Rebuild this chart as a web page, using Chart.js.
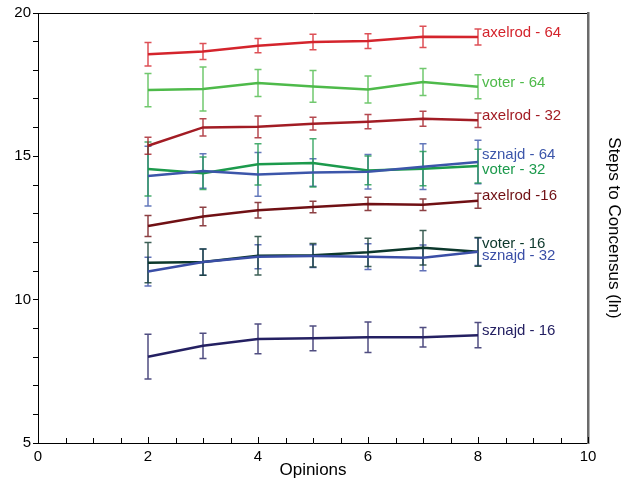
<!DOCTYPE html>
<html>
<head>
<meta charset="utf-8">
<script src="https://cdn.jsdelivr.net/npm/chart.js@4.4.1/dist/chart.umd.min.js"></script>
<style>
  html, body { margin: 0; padding: 0; background: #fff; }
  #wrap { width: 632px; height: 483px; }
</style>
</head>
<body>
<div id="wrap"><canvas id="grafico"></canvas></div>
<script>
// opiniones (eje x)
var opiniones = [2, 3, 4, 5, 6, 7, 8];

// series: media y error
var axelrod64 = [18.56, 18.66, 18.86, 18.99, 19.02, 19.17, 19.16];
var axelrod64Err = [0.41, 0.28, 0.25, 0.27, 0.26, 0.37, 0.28];

var voter64 = [17.31, 17.35, 17.56, 17.44, 17.33, 17.59, 17.43];
var voter64Err = [0.58, 0.77, 0.47, 0.55, 0.47, 0.47, 0.42];

var axelrod32 = [15.37, 16.01, 16.03, 16.14, 16.21, 16.31, 16.26];
var axelrod32Err = [0.30, 0.30, 0.38, 0.22, 0.25, 0.26, 0.25];

var sznajd64 = [14.31, 14.49, 14.37, 14.44, 14.46, 14.64, 14.80];
var sznajd64Err = [1.04, 0.60, 0.76, 0.48, 0.60, 0.80, 0.76];

var voter32 = [14.56, 14.41, 14.72, 14.77, 14.51, 14.57, 14.66];
var voter32Err = [0.94, 0.57, 0.72, 0.84, 0.50, 0.60, 0.59];

var axelrod16 = [12.57, 12.90, 13.12, 13.23, 13.34, 13.31, 13.45];
var axelrod16Err = [0.37, 0.32, 0.27, 0.20, 0.23, 0.20, 0.26];

var voter16 = [11.29, 11.31, 11.53, 11.55, 11.65, 11.81, 11.67];
var voter16Err = [0.70, 0.46, 0.67, 0.41, 0.49, 0.60, 0.50];

var sznajd32 = [10.98, 11.31, 11.50, 11.52, 11.50, 11.46, 11.67];
var sznajd32Err = [0.50, 0.46, 0.42, 0.40, 0.45, 0.45, 0.48];

var sznajd16 = [8.01, 8.39, 8.63, 8.65, 8.69, 8.69, 8.76];
var sznajd16Err = [0.78, 0.44, 0.52, 0.43, 0.53, 0.34, 0.44];

var fuente = "'Liberation Sans', Arial, Helvetica, sans-serif";

function serie(nombre, valores, errores, color, dy) {
  return {
    label: nombre,
    data: opiniones.map(function (x, i) { return { x: x, y: valores[i] }; }),
    errores: errores,
    borderColor: color,
    backgroundColor: color,
    borderWidth: 2.5,
    pointRadius: 0,
    tension: 0,
    etiquetaDy: dy
  };
}

var datasets = [
  serie('sznajd - 16', sznajd16, sznajd16Err, 'rgb(36, 32, 98)', -4),
  serie('sznajd - 32', sznajd32, sznajd32Err, 'rgb(58, 78, 166)', 4),
  serie('voter - 16', voter16, voter16Err, 'rgb(12, 56, 44)', -8),
  serie('axelrod -16', axelrod16, axelrod16Err, 'rgb(112, 16, 20)', -5),
  serie('sznajd - 64', sznajd64, sznajd64Err, 'rgb(60, 86, 170)', -7),
  serie('voter - 32', voter32, voter32Err, 'rgb(28, 154, 76)', 4),
  serie('axelrod - 32', axelrod32, axelrod32Err, 'rgb(162, 28, 36)', -4),
  serie('voter - 64', voter64, voter64Err, 'rgb(78, 186, 74)', -4),
  serie('axelrod - 64', axelrod64, axelrod64Err, 'rgb(212, 36, 44)', -4)
];

// barras de error + etiquetas al final de cada linea
var pluginErrores = {
  id: 'errores',
  beforeDatasetsDraw: function (chart) {
    var ctx = chart.ctx;
    var sx = chart.scales.x, sy = chart.scales.y;
    ctx.save();
    chart.data.datasets.forEach(function (ds) {
      ctx.strokeStyle = ds.borderColor;
      ctx.globalAlpha = 0.8;
      ctx.lineWidth = 1.5;
      ds.data.forEach(function (p, i) {
        var px = sx.getPixelForValue(p.x);
        var top = sy.getPixelForValue(p.y + ds.errores[i]);
        var bot = sy.getPixelForValue(p.y - ds.errores[i]);
        ctx.beginPath();
        ctx.moveTo(px, top); ctx.lineTo(px, bot);
        ctx.moveTo(px - 3.5, top); ctx.lineTo(px + 3.5, top);
        ctx.moveTo(px - 3.5, bot); ctx.lineTo(px + 3.5, bot);
        ctx.stroke();
      });
    });
    ctx.restore();
  },
  afterDraw: function (chart) {
    var ctx = chart.ctx;
    var sx = chart.scales.x, sy = chart.scales.y;
    ctx.save();
    // etiquetas
    ctx.font = '15px ' + fuente;
    ctx.textBaseline = 'middle';
    ctx.textAlign = 'left';
    chart.data.datasets.forEach(function (ds) {
      var ult = ds.data[ds.data.length - 1];
      ctx.fillStyle = ds.borderColor;
      ctx.fillText(ds.label, sx.getPixelForValue(ult.x) + 4, sy.getPixelForValue(ult.y) + ds.etiquetaDy);
    });
    // marcas del eje x hacia dentro
    ctx.strokeStyle = '#000';
    ctx.lineWidth = 1;
    var base = chart.chartArea.bottom;
    for (var v = 0; v <= 10; v += 0.5) {
      var px = Math.round(sx.getPixelForValue(v)) + 0.5;
      var largo = (v % 2 === 0) ? 6 : 5;
      ctx.beginPath();
      ctx.moveTo(px, base);
      ctx.lineTo(px, base - largo);
      ctx.stroke();
    }
    ctx.restore();
  }
};

var ctx = document.getElementById('grafico');

var grafico = new Chart(ctx, {
  type: 'line',
  data: { datasets: datasets },
  plugins: [pluginErrores],
  options: {
    responsive: true,
    maintainAspectRatio: false,
    animation: false,
    layout: { padding: { top: 13, left: 0, right: 0, bottom: 0 } },
    plugins: {
      legend: { display: false },
      tooltip: { enabled: false }
    },
    scales: {
      x: {
        type: 'linear',
        position: 'bottom',
        min: 0,
        max: 10,
        ticks: {
          stepSize: 2,
          color: '#000',
          padding: 5,
          maxRotation: 0,
          font: { family: fuente, size: 15 }
        },
        grid: { drawOnChartArea: false, drawTicks: false, color: '#000' },
        border: { color: '#000', width: 1 },
        title: {
          display: true,
          text: 'Opinions',
          color: '#000',
          padding: { top: 0, bottom: 2 },
          font: { family: fuente, size: 17 }
        },
        afterFit: function (scale) { scale.height = 40; }
      },
      xTop: {
        type: 'linear',
        position: 'top',
        min: 0,
        max: 10,
        ticks: { display: false },
        grid: { drawOnChartArea: false, drawTicks: false },
        border: { color: '#000', width: 1 },
        afterFit: function (scale) { scale.height = 0; }
      },
      y: {
        type: 'linear',
        position: 'left',
        min: 5,
        max: 20,
        ticks: {
          stepSize: 1,
          color: '#000',
          padding: 2,
          font: { family: fuente, size: 15 },
          callback: function (value) { return value % 5 === 0 ? value : ''; }
        },
        grid: { drawOnChartArea: false, drawTicks: true, tickLength: 5, color: '#000' },
        border: { color: '#000', width: 1 },
        afterFit: function (scale) { scale.width = 38; }
      },
      y2: {
        type: 'linear',
        position: 'right',
        min: 5,
        max: 20,
        ticks: { display: false },
        grid: { drawOnChartArea: false, drawTicks: false },
        border: { color: '#6b6b6b', width: 2.5 },
        title: {
          display: true,
          text: 'Steps to Concensus (ln)',
          color: '#000',
          padding: { top: 8, bottom: 0 },
          font: { family: fuente, size: 17 }
        },
        afterFit: function (scale) { scale.width = 44; }
      }
    }
  }
});
</script>
</body>
</html>
